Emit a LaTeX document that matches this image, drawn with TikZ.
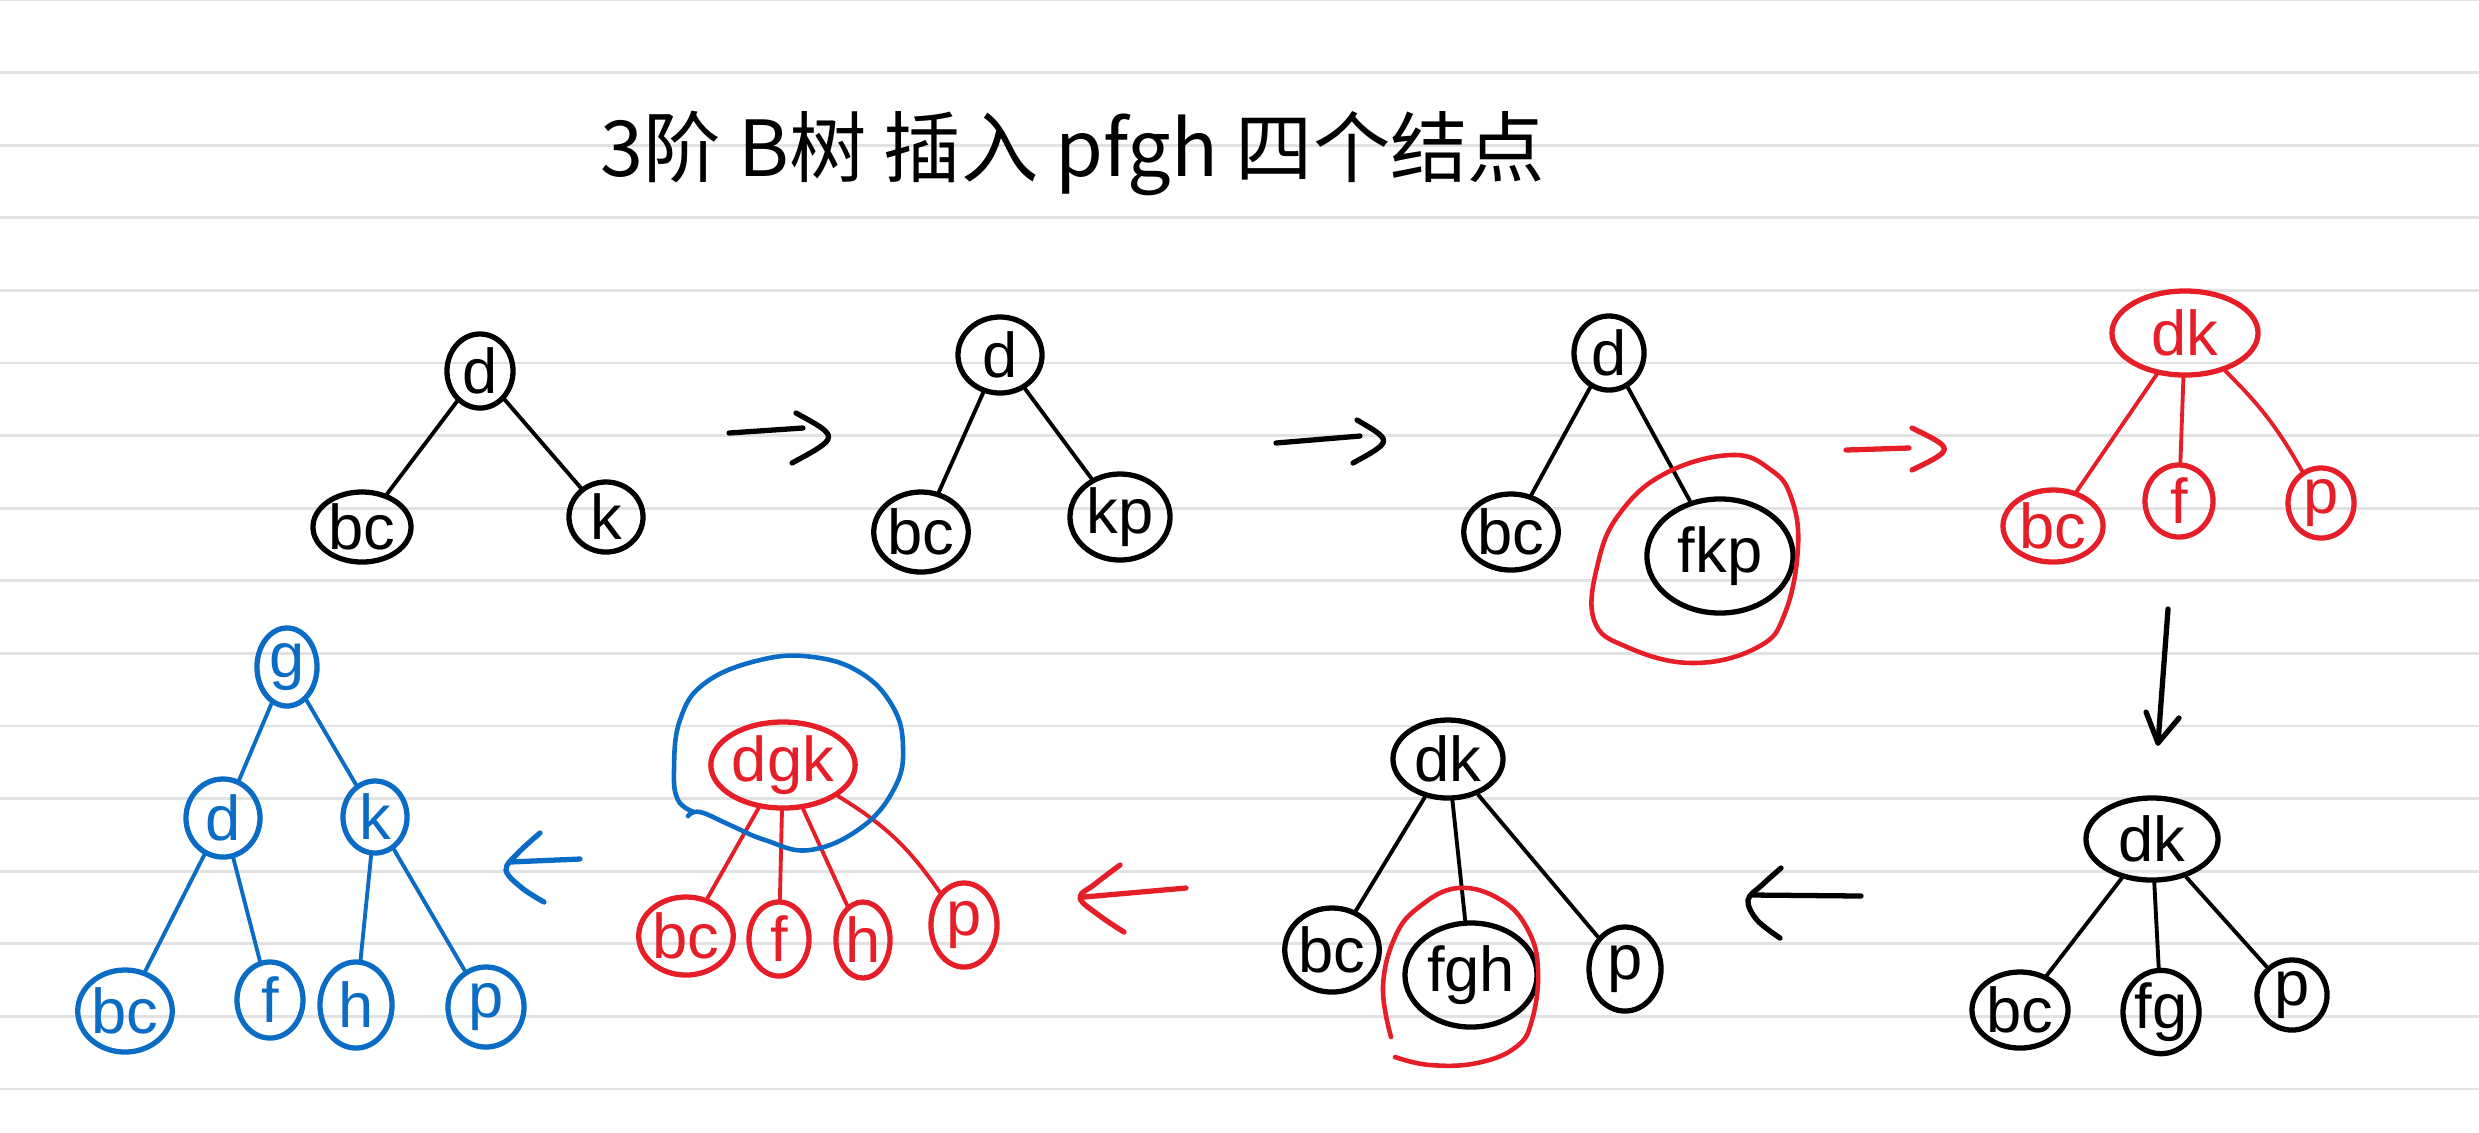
\documentclass[tikz,border=0pt]{standalone}
\usepackage{fontspec}
\setmainfont{Liberation Sans}
\newfontfamily\cjkfont{Noto Sans CJK SC}
\usetikzlibrary{shapes.geometric}
\definecolor{hred}{RGB}{230,30,40}
\definecolor{hblue}{RGB}{10,108,196}
\definecolor{rulegray}{RGB}{226,226,226}
\tikzset{
  nd/.style={ellipse, draw, line width=1.5pt, inner sep=0pt, font=\fontsize{18}{18}\selectfont},
  sz/.style 2 args={minimum width=#1*0.02cm, minimum height=#2*0.02cm},
  bk/.style={nd, draw=black, text=black},
  rd/.style={nd, draw=hred, text=hred},
  bl/.style={nd, draw=hblue, text=hblue},
  ed/.style={line width=1.1pt, line cap=round},
  arw/.style={line width=1.5pt, line cap=round, line join=round},
  hand/.style={line width=1.3pt, line cap=round},
}
\begin{document}
\begin{tikzpicture}[x=0.01cm,y=-0.01cm]
\fill[white] (0,0) rectangle (2479,1132);
\useasboundingbox (0,0) rectangle (2479,1132);
\foreach \k in {0,...,15} \draw[rulegray, line width=0.8pt] (0,\k*72.6) -- (2479,\k*72.6);

% title
\node[anchor=base west, font=\cjkfont\fontsize{22}{22}\selectfont, inner sep=0pt] (title) at (600,176) {3阶 B树 插入 pfgh 四个结点};

% tree 1
\node[bk, sz={33}{37}] (t1d) at (480,371) {d};
\node[bk, sz={49}{35}] (t1bc) at (362,527) {bc};
\node[bk, sz={37}{35}] (t1k) at (606,517) {k};
\draw[ed] (t1d) -- (t1bc);
\draw[ed] (t1d) -- (t1k);

% arrow 1
\coordinate (a1s) at (729,433);
\coordinate (a1e) at (803,428);
\draw[arw] (a1s) -- (a1e);
\draw[arw] (796,413) .. controls (840,437) .. (792,463);

% tree 2
\node[bk, sz={42}{38}] (t2d) at (1000,355) {d};
\node[bk, sz={39}{40}] (t2bc) at (921,532) {bc};
\node[bk, sz={50}{43}] (t2kp) at (1120,517) {kp};
\draw[ed] (t2d) -- (t2bc);
\draw[ed] (t2d) -- (t2kp);

% arrow 2
\coordinate (a2s) at (1276,443);
\coordinate (a2e) at (1360,436);
\draw[arw] (a2s) -- (a2e);
\draw[arw] (1357,420) .. controls (1393,441) .. (1353,463);

% tree 3
\node[bk, sz={35}{37}] (t3d) at (1609,353) {d};
\node[bk, sz={42}{38}] (t3bc) at (1511,532) {bc};
\node[bk, sz={73}{57}] (t3fkp) at (1720,556) {fkp};
\draw[ed] (t3d) -- (t3bc);
\draw[ed] (t3d) -- (t3fkp);
\draw[hred, hand] plot[smooth cycle, tension=0.7] coordinates {(1732,455) (1666,473) (1620,513) (1598,563) (1594,620) (1627,647) (1693,663) (1758,647) (1785,613) (1798,547) (1791,497) (1771,470)};

% arrow 3 (red)
\coordinate (a3s) at (1846,450);
\coordinate (a3e) at (1909,448);
\draw[arw, hred] (a3s) -- (a3e);
\draw[arw, hred] (1912,428) .. controls (1955,449) .. (1912,470);

% tree 4 (red)
\node[rd, sz={73}{42}] (t4dk) at (2185,333) {dk};
\node[rd, sz={50}{36}] (t4bc) at (2053,526) {bc};
\node[rd, sz={34}{36}] (t4f) at (2179,501) {f};
\node[rd, sz={33}{35}] (t4p) at (2321,503) {p};
\draw[ed, hred] (t4dk) -- (t4bc);
\draw[ed, hred] (t4dk) -- (t4f);
\draw[ed, hred] (t4dk) to[bend left=8] (t4p);

% down arrow
\coordinate (dn1) at (2168,609);
\coordinate (dn2) at (2158,743);
\draw[arw] (dn1) -- (dn2);
\draw[arw] (2146,712) -- (dn2) -- (2179,718);

% tree 5
\node[bk, sz={66}{41}] (t5dk) at (2152,839) {dk};
\node[bk, sz={48}{38}] (t5bc) at (2020,1010) {bc};
\node[bk, sz={38}{36}] (t5fg) at (2161,1012) {fg};
\node[bk, sz={35}{35}] (t5p) at (2292,995) {p};
\draw[ed] (t5dk) -- (t5bc);
\draw[ed] (t5dk) -- (t5fg);
\draw[ed] (t5dk) -- (t5p);

% arrow 4 (left, black)
\coordinate (a4s) at (1861,896);
\coordinate (a4e) at (1752,895);
\draw[arw] (a4s) -- (a4e);
\draw[arw] plot[smooth, tension=0.6] coordinates {(1781,868) (1762,885) (1748,900) (1757,920) (1780,938)};

% tree 6
\node[bk, sz={55}{39}] (t6dk) at (1448,759) {dk};
\node[bk, sz={44}{42}] (t6bc) at (1332,950) {bc};
\node[bk, sz={66}{52}] (t6fgh) at (1471,975) {fgh};
\node[bk, sz={36}{42}] (t6p) at (1625,969) {p};
\draw[ed] (t6dk) -- (t6bc);
\draw[ed] (t6dk) -- (t6fgh);
\draw[ed] (t6dk) -- (t6p);
\draw[hred, hand] plot[smooth, tension=0.7] coordinates {(1391,1037) (1383,987) (1395,937) (1419,907) (1458,888) (1501,900) (1528,930) (1538,970) (1532,1020) (1516,1047) (1477,1063) (1430,1065) (1395,1057)};

% arrow 5 (left, red)
\coordinate (a5s) at (1186,888);
\coordinate (a5e) at (1084,897);
\draw[arw, hred] (a5s) -- (a5e);
\draw[arw, hred] plot[smooth, tension=0.6] coordinates {(1120,865) (1095,884) (1080,898) (1100,916) (1124,932)};

% tree 7
\node[rd, sz={59}{43}] (t7dgk) at (783,765) {dgk};
\node[rd, sz={40}{39}] (t7bc) at (686,936) {bc};
\node[rd, sz={30}{37}] (t7f) at (779,939) {f};
\node[rd, sz={27}{38}] (t7h) at (863,940) {h};
\node[rd, sz={33}{42}] (t7p) at (964,925) {p};
\draw[ed, hred] (t7dgk) -- (t7bc);
\draw[ed, hred] (t7dgk) -- (t7f);
\draw[ed, hred] (t7dgk) -- (t7h);
\draw[ed, hred] (t7dgk) to[bend left=12] (t7p);
\draw[hblue, hand] plot[smooth, tension=0.7] coordinates {(694,812) (678,800) (674,770) (680,720) (705,683) (760,660) (813,657) (861,673) (893,707) (903,747) (895,787) (862,827) (810,850) (765,840) (730,825) (700,812) (688,816)};

% arrow 6 (left, blue)
\coordinate (a6s) at (580,859);
\coordinate (a6e) at (510,862);
\draw[arw, hblue] (a6s) -- (a6e);
\draw[arw, hblue] plot[smooth, tension=0.6] coordinates {(540,833) (518,853) (506,870) (522,888) (544,902)};

% tree 8 (blue)
\node[bl, sz={30}{39}] (t8g) at (287,667) {g};
\node[bl, sz={37}{39}] (t8d) at (223,818) {d};
\node[bl, sz={32}{36}] (t8k) at (375,817) {k};
\node[bl, sz={38}{41}] (t8bc) at (125,1011) {bc};
\node[bl, sz={33}{38}] (t8f) at (270,1000) {f};
\node[bl, sz={36}{43}] (t8h) at (356,1005) {h};
\node[bl, sz={38}{40}] (t8p) at (486,1007) {p};
\draw[ed, hblue] (t8g) -- (t8d);
\draw[ed, hblue] (t8g) -- (t8k);
\draw[ed, hblue] (t8d) -- (t8bc);
\draw[ed, hblue] (t8d) -- (t8f);
\draw[ed, hblue] (t8k) -- (t8h);
\draw[ed, hblue] (t8k) -- (t8p);
\end{tikzpicture}
\end{document}
